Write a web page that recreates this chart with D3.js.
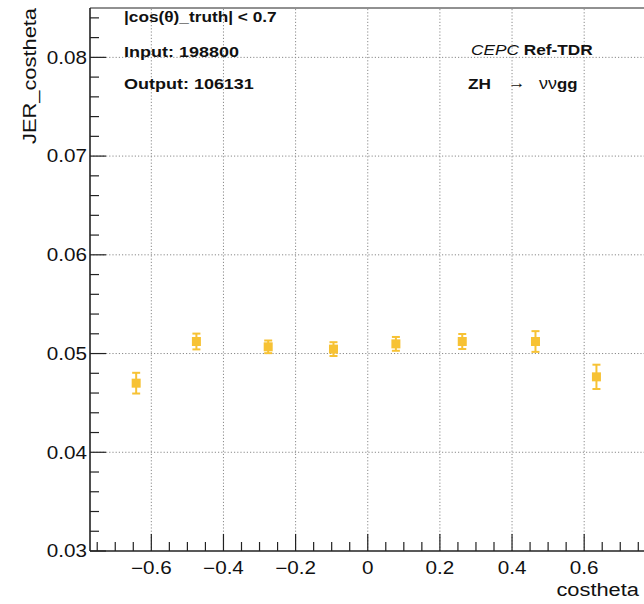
<!DOCTYPE html>
<html>
<head>
<meta charset="utf-8">
<script src="https://cdn.jsdelivr.net/npm/d3@7"></script>
<style>
  html, body { margin: 0; padding: 0; background: #fff; }
  svg { display: block; }
  text { font-family: "Liberation Sans", Arial, Helvetica, sans-serif; fill: #111; }
</style>
</head>
<body>
<svg id="chart" width="644" height="604"></svg>
<script>
// ---- data ----
const binX   = [-0.642, -0.475, -0.276, -0.095, 0.078, 0.262, 0.465, 0.634];
const jerVal = [0.04700, 0.05122, 0.05068, 0.05045, 0.05098, 0.05122, 0.05122, 0.04764];
const jerErr = [0.00105, 0.00080, 0.00064, 0.00070, 0.00070, 0.00076, 0.00105, 0.00123];
const xMajorTicks = [-0.6, -0.4, -0.2, 0, 0.2, 0.4, 0.6];
const xTickLabels = ["\u22120.6", "\u22120.4", "\u22120.2", "0", "0.2", "0.4", "0.6"];
const yMajorTicks = [0.03, 0.04, 0.05, 0.06, 0.07, 0.08];
const yTickLabels = ["0.03", "0.04", "0.05", "0.06", "0.07", "0.08"];

const svg = d3.select("#chart");
const L = 90, R = 645.5, T = 8, B = 551;
const x = d3.scaleLinear().domain([-0.77, 0.77]).range([L, R]);
const y = d3.scaleLinear().domain([0.03, 0.085]).range([B, T]);
const SX = 1.18;   // horizontal glyph stretch seen in the reference
const col = "#f7c234";

function stretchedText(g, px, py, str, opts) {
  const t = g.append("text")
    .attr("transform", `translate(${px},${py}) ${opts.rotate ? "rotate(-90)" : ""} scale(${opts.sx || SX},1)`)
    .attr("font-size", opts.size)
    .attr("text-anchor", opts.anchor || "start")
    .attr("font-weight", opts.weight || "normal")
    .attr("font-style", opts.style || "normal");
  t.text(str);
  return t;
}

// grid
const grid = svg.append("g").attr("stroke", "#8a8a8a").attr("stroke-width", 1).attr("stroke-dasharray", "1.2,2");
grid.selectAll("line.vx").data(xMajorTicks).join("line")
  .attr("x1", d => x(d)).attr("x2", d => x(d)).attr("y1", B).attr("y2", T);
grid.selectAll("line.hy").data(yMajorTicks.slice(1)).join("line")
  .attr("y1", d => y(d)).attr("y2", d => y(d)).attr("x1", L).attr("x2", 644);

// frame
const frame = svg.append("g").attr("stroke", "#222").attr("fill", "none");
frame.append("line").attr("x1", L).attr("x2", 644).attr("y1", T).attr("y2", T).attr("stroke-width", 1);
frame.append("line").attr("x1", L).attr("x2", 644).attr("y1", B).attr("y2", B).attr("stroke-width", 1.6);
frame.append("line").attr("x1", L).attr("x2", L).attr("y1", T).attr("y2", B).attr("stroke-width", 1.6);

// ticks
const xMinor = d3.range(-15, 16).map(i => i * 0.05).filter(v => xMajorTicks.every(m => Math.abs(m - v) > 1e-6));
const yMinor = d3.range(0, 28).map(i => 0.03 + i * 0.002).filter(v => yMajorTicks.every(m => Math.abs(m - v) > 1e-6));
const tk = svg.append("g").attr("stroke", "#222").attr("stroke-width", 1.2);
tk.selectAll("line.xM").data(xMajorTicks).join("line")
  .attr("x1", d => x(d)).attr("x2", d => x(d)).attr("y1", B).attr("y2", B - 17);
tk.selectAll("line.xm").data(xMinor).join("line")
  .attr("x1", d => x(d)).attr("x2", d => x(d)).attr("y1", B).attr("y2", B - 9);
tk.selectAll("line.yM").data(yMajorTicks).join("line")
  .attr("y1", d => y(d)).attr("y2", d => y(d)).attr("x1", L).attr("x2", L + 16);
tk.selectAll("line.ym").data(yMinor).join("line")
  .attr("y1", d => y(d)).attr("y2", d => y(d)).attr("x1", L).attr("x2", L + 9);

// tick labels
const lab = svg.append("g");
xMajorTicks.forEach((v, i) => stretchedText(lab, x(v), 574, xTickLabels[i], {size: 17.5, anchor: "middle"}));
yMajorTicks.forEach((v, i) => stretchedText(lab, 87, y(v) + 6.3, yTickLabels[i], {size: 17.5, anchor: "end"}));

// axis titles
stretchedText(lab, 639, 596, "costheta", {size: 19, anchor: "end", sx: 1.15});
stretchedText(lab, 36, 8, "JER_costheta", {size: 19, anchor: "end", rotate: true, sx: 1.15});

// data points with error bars
const pts = svg.append("g");
const data = binX.map((v, i) => ({x: v, y: jerVal[i], e: jerErr[i]}));
pts.selectAll("line.err").data(data).join("line")
  .attr("x1", d => x(d.x)).attr("x2", d => x(d.x))
  .attr("y1", d => y(d.y - d.e)).attr("y2", d => y(d.y + d.e))
  .attr("stroke", col).attr("stroke-width", 2);
pts.selectAll("line.capT").data(data).join("line")
  .attr("x1", d => x(d.x) - 4).attr("x2", d => x(d.x) + 4)
  .attr("y1", d => y(d.y + d.e)).attr("y2", d => y(d.y + d.e))
  .attr("stroke", col).attr("stroke-width", 2);
pts.selectAll("line.capB").data(data).join("line")
  .attr("x1", d => x(d.x) - 4).attr("x2", d => x(d.x) + 4)
  .attr("y1", d => y(d.y - d.e)).attr("y2", d => y(d.y - d.e))
  .attr("stroke", col).attr("stroke-width", 2);
pts.selectAll("rect").data(data).join("rect")
  .attr("x", d => x(d.x) - 4.5).attr("y", d => y(d.y) - 4.5)
  .attr("width", 9).attr("height", 9).attr("fill", col);

// annotation text
const ann = svg.append("g");
stretchedText(ann, 124, 22, "|cos(\u03B8)_truth| < 0.7", {size: 15, weight: "bold", sx: 1.15});
stretchedText(ann, 124, 57, "Input: 198800", {size: 15, weight: "bold", sx: 1.2});
stretchedText(ann, 124, 89, "Output: 106131", {size: 15, weight: "bold", sx: 1.2});
const cepc = stretchedText(ann, 471, 55, "", {size: 15, sx: 1.15});
cepc.append("tspan").attr("font-style", "italic").text("CEPC ");
cepc.append("tspan").attr("font-weight", "bold").text("Ref-TDR");
stretchedText(ann, 468, 89, "ZH", {size: 15, weight: "bold", sx: 1.15});
stretchedText(ann, 508, 88, "\u2192", {size: 16, sx: 1.1});
const nn = stretchedText(ann, 539, 89, "", {size: 16, sx: 1.12});
nn.append("tspan").text("\u03BD\u03BD");
nn.append("tspan").attr("font-weight", "bold").attr("font-size", 15).text("gg");
</script>
</body>
</html>
